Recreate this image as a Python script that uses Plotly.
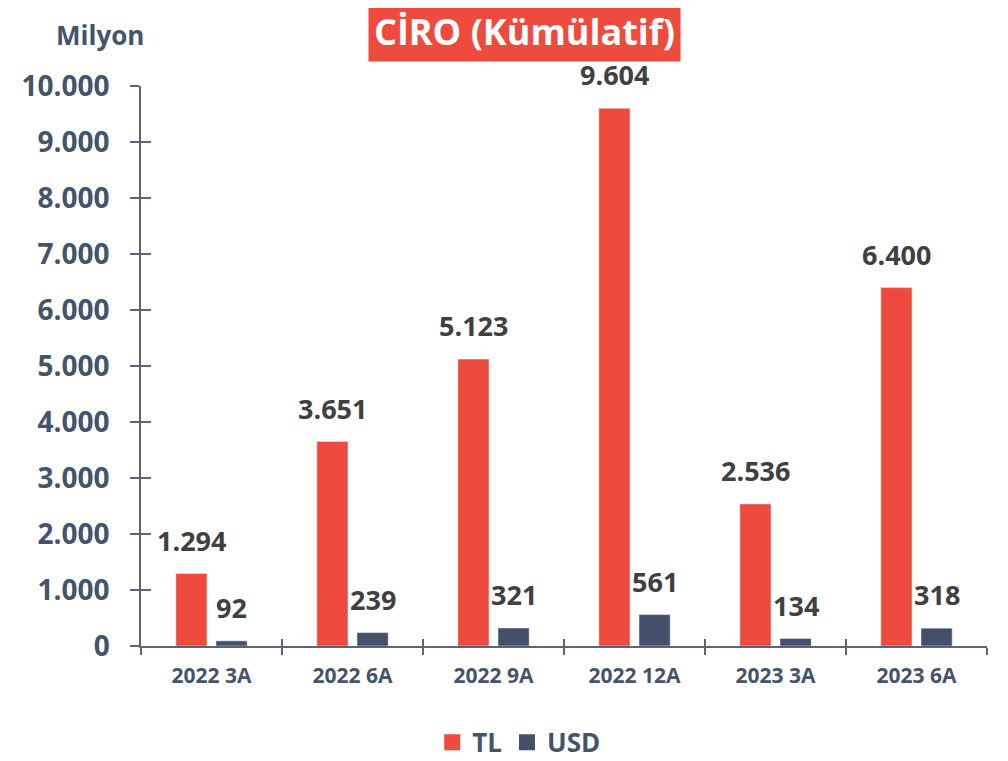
import plotly.graph_objects as go

categories = ["2022 3A", "2022 6A", "2022 9A", "2022 12A", "2023 3A", "2023 6A"]
tl_values = [1294, 3651, 5123, 9604, 2536, 6400]
usd_values = [92, 239, 321, 561, 134, 318]
y_ticks = [0, 1000, 2000, 3000, 4000, 5000, 6000, 7000, 8000, 9000, 10000]

RED = "#EE4B3E"
NAVY = "#44506A"
AXIS = "#5B6478"
LABEL = "#44546A"
VAL = "#404040"
FONT = "Open Sans"


def fmt(v):
    return f"{v:,}".replace(",", ".")


fig = go.Figure()
fig.add_trace(go.Bar(x=categories, y=tl_values, name="TL", marker_color=RED, showlegend=False))
fig.add_trace(go.Bar(x=categories, y=usd_values, name="USD", marker_color=NAVY, showlegend=False))
# legend entries with larger square symbols
for name, col in (("TL", RED), ("USD", NAVY)):
    fig.add_trace(go.Scatter(x=[None], y=[None], mode="markers", name=name,
                             marker=dict(symbol="square", size=17, color=col)))
# invisible helper trace for overlay axes (crossing ticks)
fig.add_trace(go.Scatter(x=[0], y=[0], xaxis="x2", yaxis="y2", mode="markers",
                         marker=dict(opacity=0), showlegend=False, hoverinfo="skip"))

annotations = []
for series, shift in ((tl_values, -20), (usd_values, 20)):
    for c, v in zip(categories, series):
        annotations.append(dict(
            x=c, y=v, xref="x", yref="y", text=fmt(v), showarrow=False,
            xanchor="center", yanchor="bottom", xshift=shift, yshift=13,
            font=dict(size=27, color=VAL, family=FONT, weight="bold"),
        ))

annotations += [
    dict(text="CİRO (Kümülatif)", xref="paper", yref="paper", x=0.453, y=1.098,
         xanchor="center", yanchor="middle", showarrow=False,
         font=dict(size=36, color="white", family=FONT, weight="bold"),
         bgcolor=RED, borderpad=5),
    dict(text="Milyon", xref="paper", yref="paper", x=-0.048, y=1.091,
         xanchor="center", yanchor="middle", showarrow=False,
         font=dict(size=26, color=LABEL, family=FONT, weight="bold")),
]

fig.update_layout(
    width=1000, height=753,
    paper_bgcolor="white", plot_bgcolor="white",
    separators=",.",
    barmode="group", bargap=0.43, bargroupgap=0.225,
    margin=dict(l=133, r=21, t=78, b=115, autoexpand=False),
    font=dict(family=FONT, color=LABEL),
    xaxis=dict(
        type="category", showgrid=False, showline=True, linecolor=AXIS, linewidth=1.5,
        ticks="outside", tickson="boundaries", ticklen=7, tickcolor=AXIS, tickwidth=1.5,
        tickfont=dict(size=21, color=LABEL, family=FONT, weight="bold"),
        ticklabelstandoff=10, range=[-0.5, 5.5], automargin=False,
    ),
    yaxis=dict(
        range=[0, 10000], tickvals=y_ticks, tickformat=",", showgrid=False,
        showline=True, linecolor=AXIS, linewidth=1.5,
        ticks="outside", ticklen=9, tickcolor=AXIS, tickwidth=1.5,
        tickfont=dict(size=28, color=LABEL, family=FONT, weight="bold"),
        ticklabelstandoff=15, zeroline=False, automargin=False,
    ),
    xaxis2=dict(
        overlaying="x", range=[-0.5, 5.5], tickvals=[-0.5, 0.5, 1.5, 2.5, 3.5, 4.5, 5.5],
        showticklabels=False, ticks="inside", ticklen=7, tickcolor=AXIS, tickwidth=1.5,
        showgrid=False, zeroline=False, showline=False, side="bottom",
    ),
    yaxis2=dict(
        overlaying="y", range=[0, 10000], tickvals=y_ticks, showticklabels=False,
        ticks="inside", ticklen=10, tickcolor=AXIS, tickwidth=1.5,
        showgrid=False, zeroline=False, showline=False, side="left",
    ),
    legend=dict(
        orientation="h", x=0.4465, xanchor="center", y=-0.172, yanchor="middle",
        font=dict(size=26, color=LABEL, family=FONT, weight="bold"),
        itemwidth=30, tracegroupgap=0,
    ),
    annotations=annotations,
)

fig.write_html("out.html")
